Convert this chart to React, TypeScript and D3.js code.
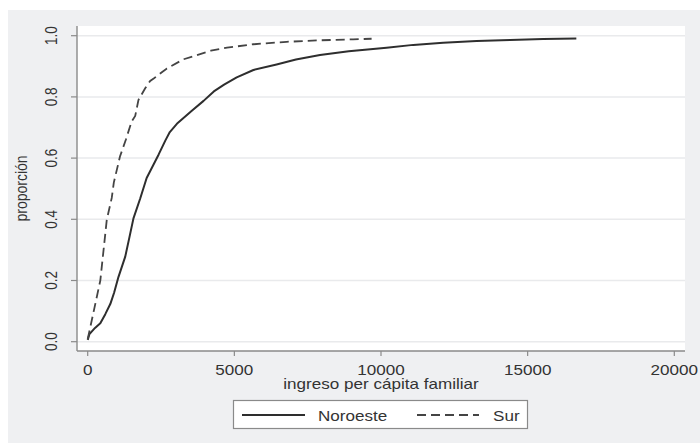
import React from "react";
import * as d3 from "d3";

const noroesteX = [0, 60, 250, 430, 600, 770, 900, 1050, 1280, 1420, 1560, 1790, 2010, 2250, 2420, 2650, 2800, 3040, 3550, 3950, 4300, 4650, 5080, 5650, 6440, 7100, 7920, 8900, 10190, 11100, 12120, 13260, 14400, 15530, 16660];
const noroesteY = [0.006, 0.025, 0.045, 0.06, 0.09, 0.123, 0.16, 0.212, 0.278, 0.34, 0.403, 0.468, 0.535, 0.58, 0.612, 0.658, 0.685, 0.712, 0.755, 0.787, 0.818, 0.84, 0.864, 0.888, 0.906, 0.922, 0.937, 0.949, 0.961, 0.97, 0.977, 0.983, 0.986, 0.989, 0.991];

const surX = [0, 430, 650, 820, 890, 1100, 1300, 1500, 1620, 1730, 1960, 2130, 2250, 2700, 3270, 4200, 4750, 5650, 6780, 7920, 9050, 9680];
const surY = [0.008, 0.2, 0.398, 0.47, 0.52, 0.605, 0.66, 0.72, 0.738, 0.79, 0.828, 0.852, 0.86, 0.893, 0.923, 0.951, 0.961, 0.972, 0.98, 0.985, 0.988, 0.99];

const xTicks = [0, 5000, 10000, 15000, 20000];
const yTicks = [0, 0.2, 0.4, 0.6, 0.8, 1.0];
const xTitle = "ingreso per cápita familiar";
const yTitle = "proporción";
const seriesNames = ["Noroeste", "Sur"];

const W = 700;
const H = 443;
const plotL = 77, plotR = 685, plotT = 26, plotB = 351;
const SX = 1.22;
const FONT = "'Liberation Sans', Arial, sans-serif";
const TXT = "#333";

export default function App() {
  const x = d3.scaleLinear().domain([0, 20000]).range([87.7, 674.3]);
  const y = d3.scaleLinear().domain([0, 1]).range([341.7, 35.7]);
  const line = d3
    .line<[number, number]>()
    .x((d) => x(d[0]))
    .y((d) => y(d[1]));
  const nData: [number, number][] = noroesteX.map((v, i) => [v, noroesteY[i]]);
  const sData: [number, number][] = surX.map((v, i) => [v, surY[i]]);

  return (
    <svg
      width={W}
      height={H}
      style={{ position: "absolute", left: 0, top: 0, display: "block" }}
      fontFamily={FONT}
    >
      <rect x={0} y={0} width={W} height={H} fill="#ffffff" />
      <rect x={8} y={10} width={W - 8} height={H - 10} fill="#eff0f2" />
      <rect x={plotL} y={plotT} width={plotR - plotL} height={plotB - plotT} fill="#ffffff" />
      {yTicks.map((t) => (
        <line key={"g" + t} x1={plotL} x2={plotR} y1={y(t)} y2={y(t)} stroke="#e9eaec" strokeWidth={1.5} />
      ))}
      {/* axes */}
      <line x1={plotL} x2={plotL} y1={plotT} y2={plotB} stroke="#8a8a8a" strokeWidth={1.4} />
      <line x1={plotL} x2={plotR} y1={plotB} y2={plotB} stroke="#8a8a8a" strokeWidth={1.4} />
      {yTicks.map((t) => (
        <g key={"yt" + t}>
          <line x1={plotL - 6} x2={plotL} y1={y(t)} y2={y(t)} stroke="#8a8a8a" strokeWidth={1.2} />
          <text
            transform={`translate(57,${y(t)}) scale(${SX},1) rotate(-90)`}
            textAnchor="middle"
            fontSize={13.5}
            fill={TXT}
          >
            {d3.format(".1f")(t)}
          </text>
        </g>
      ))}
      {xTicks.map((t) => (
        <g key={"xt" + t}>
          <line x1={x(t)} x2={x(t)} y1={plotB} y2={plotB + 5} stroke="#8a8a8a" strokeWidth={1.2} />
          <text
            transform={`translate(${x(t)},375) scale(${SX},1)`}
            textAnchor="middle"
            fontSize={14}
            fill={TXT}
          >
            {String(t)}
          </text>
        </g>
      ))}
      <text
        transform={`translate(${(plotL + plotR) / 2},389) scale(${SX},1)`}
        textAnchor="middle"
        fontSize={14}
        fill={TXT}
      >
        {xTitle}
      </text>
      <text
        transform={`translate(27,${(plotT + plotB) / 2}) scale(${SX},1) rotate(-90)`}
        textAnchor="middle"
        fontSize={14}
        fill={TXT}
      >
        {yTitle}
      </text>
      {/* series */}
      <path d={line(nData) ?? ""} fill="none" stroke="#2e2e2e" strokeWidth={2} strokeLinejoin="round" />
      <path d={line(sData) ?? ""} fill="none" stroke="#444" strokeWidth={1.8} strokeDasharray="9,5" />
      {/* legend */}
      <rect x={233.5} y={400.5} width={294} height={28} fill="#ffffff" stroke="#8a8a8a" strokeWidth={1.2} />
      <line x1={242} x2={305} y1={415} y2={415} stroke="#2e2e2e" strokeWidth={2} />
      <text transform={`translate(318,421) scale(${SX},1)`} fontSize={14} fill={TXT}>
        {seriesNames[0]}
      </text>
      <line x1={417} x2={479} y1={415} y2={415} stroke="#444" strokeWidth={1.8} strokeDasharray="9,5" />
      <text transform={`translate(493,421) scale(${SX},1)`} fontSize={14} fill={TXT}>
        {seriesNames[1]}
      </text>
    </svg>
  );
}
